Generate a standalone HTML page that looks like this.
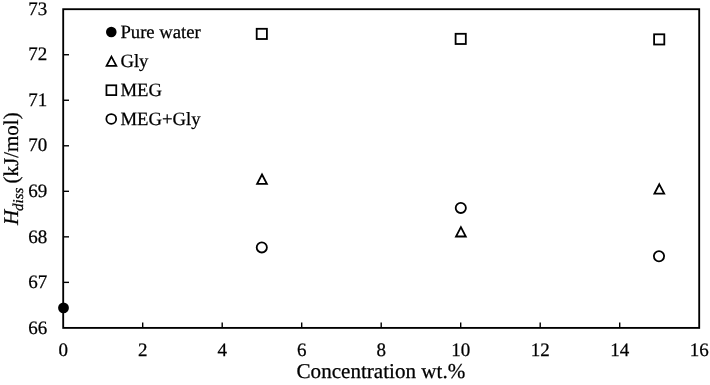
<!DOCTYPE html>
<html><head><meta charset="utf-8">
<style>
html,body{margin:0;padding:0;background:#fff;}
body{width:710px;height:385px;overflow:hidden;}
svg{display:block;will-change:transform;}
text{font-family:"Liberation Serif",serif;fill:#000;text-rendering:geometricPrecision;stroke:#000;stroke-width:0.25px;}
</style></head><body>
<svg width="710" height="385" viewBox="0 0 710 385">
<rect x="0" y="0" width="710" height="385" fill="#fff"/>
<rect x="63.2" y="9.2" width="636.00" height="318.70" fill="none" stroke="#000" stroke-width="1.85"/>
<g stroke="#000" stroke-width="1.4">
<line x1="63.2" y1="282.37" x2="69.00" y2="282.37"/>
<line x1="63.2" y1="236.84" x2="69.00" y2="236.84"/>
<line x1="63.2" y1="191.31" x2="69.00" y2="191.31"/>
<line x1="63.2" y1="145.79" x2="69.00" y2="145.79"/>
<line x1="63.2" y1="100.26" x2="69.00" y2="100.26"/>
<line x1="63.2" y1="54.73" x2="69.00" y2="54.73"/>
<line x1="142.70" y1="327.9" x2="142.70" y2="322.40"/>
<line x1="222.20" y1="327.9" x2="222.20" y2="322.40"/>
<line x1="301.70" y1="327.9" x2="301.70" y2="322.40"/>
<line x1="381.20" y1="327.9" x2="381.20" y2="322.40"/>
<line x1="460.70" y1="327.9" x2="460.70" y2="322.40"/>
<line x1="540.20" y1="327.9" x2="540.20" y2="322.40"/>
<line x1="619.70" y1="327.9" x2="619.70" y2="322.40"/>
</g>
<g font-size="19" text-anchor="end">
<text x="47.2" y="333.60">66</text>
<text x="47.2" y="288.07">67</text>
<text x="47.2" y="242.54">68</text>
<text x="47.2" y="197.01">69</text>
<text x="47.2" y="151.49">70</text>
<text x="47.2" y="105.96">71</text>
<text x="47.2" y="60.43">72</text>
<text x="47.2" y="14.90">73</text>
</g>
<g font-size="19" text-anchor="middle">
<text x="63.20" y="356.0">0</text>
<text x="142.70" y="356.0">2</text>
<text x="222.20" y="356.0">4</text>
<text x="301.70" y="356.0">6</text>
<text x="381.20" y="356.0">8</text>
<text x="460.70" y="356.0">10</text>
<text x="540.20" y="356.0">12</text>
<text x="619.70" y="356.0">14</text>
<text x="699.20" y="356.0">16</text>
</g>
<text x="380.9" y="378.3" font-size="21.1" text-anchor="middle">Concentration wt.%</text>
<text transform="translate(18.2,225.1) rotate(-90)" font-size="21"><tspan font-style="italic">H</tspan><tspan font-style="italic" font-size="15" dy="4.5" dx="-1">diss</tspan><tspan dy="-4.5" dx="-1.2"> (kJ/mol)</tspan></text>
<circle cx="111.3" cy="32.0" r="5.3" fill="#000"/>
<path d="M111.45 56.6 L116.35 65.8 L106.55 65.8 Z" fill="none" stroke="#000" stroke-width="1.75"/>
<rect x="106.45" y="85.3" width="9.8" height="9.8" fill="none" stroke="#000" stroke-width="1.75"/>
<circle cx="111.25" cy="118.95" r="4.9" fill="none" stroke="#000" stroke-width="1.75"/>
<g font-size="18.7">
<text x="120.4" y="37.70">Pure water</text>
<text x="120.4" y="66.90">Gly</text>
<text x="120.4" y="96.10">MEG</text>
<text x="120.4" y="125.30">MEG+Gly</text>
</g>
<circle cx="63.5" cy="307.9" r="5.4" fill="#000"/>
<g fill="none" stroke="#000" stroke-width="1.8">
<rect x="256.70" y="28.80" width="10.2" height="10.2"/>
<rect x="455.60" y="33.80" width="10.2" height="10.2"/>
<rect x="654.10" y="34.30" width="10.2" height="10.2"/>
<path d="M262.00 174.50 L266.90 183.90 L257.10 183.90 Z"/>
<path d="M460.90 227.10 L465.80 236.50 L456.00 236.50 Z"/>
<path d="M659.30 184.30 L664.20 193.70 L654.40 193.70 Z"/>
<circle cx="261.80" cy="247.40" r="5.1"/>
<circle cx="460.80" cy="207.90" r="5.1"/>
<circle cx="659.00" cy="256.20" r="5.1"/>
</g>
</svg>
</body></html>
